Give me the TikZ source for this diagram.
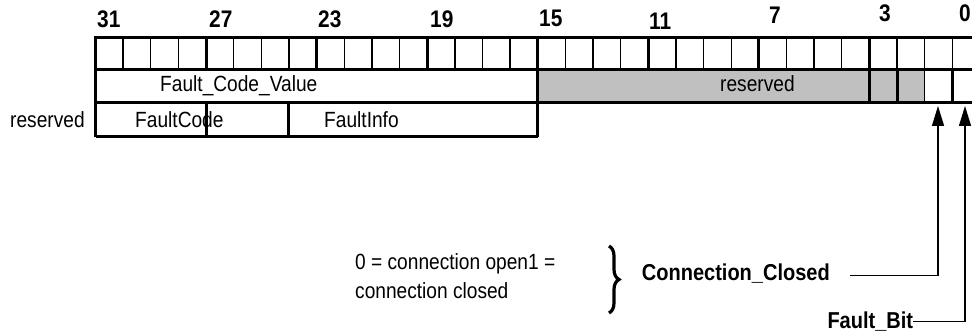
\documentclass[tikz,border=0pt]{standalone}
\usepackage{fontspec}
\setmainfont{Liberation Sans}[FakeStretch=0.87]
\usetikzlibrary{arrows.meta,decorations.pathreplacing}
\definecolor{resgray}{RGB}{192,192,192}
\begin{document}
\begin{tikzpicture}[x=1pt,y=-1pt,
  thickln/.style={line width=3pt},
  thinln/.style={line width=1.4pt},
  bitlbl/.style={anchor=base west, inner sep=0pt, font=\fontsize{24}{28}\selectfont\bfseries},
  fieldtxt/.style={anchor=base west, inner sep=0pt, font=\fontsize{22}{29}\selectfont},
  boldtxt/.style={anchor=base west, inner sep=0pt, font=\fontsize{23}{29}\selectfont\bfseries},
  ptr/.style={line width=1.4pt, -{Triangle[width=12pt,length=20pt]}},
  bracestyle/.style={line width=3.2pt, decorate, decoration={brace, amplitude=10pt}}]
\useasboundingbox (0,0) rectangle (972,336);
\clip (0,0) rectangle (972,336);
% gray reserved area
\fill[resgray] (537.74,70) rectangle (924.7,103);
% row 1 vertical lines
\foreach \i in {1,...,31} {
  \pgfmathsetmacro\xx{95.5+\i*27.64}
  \pgfmathtruncatemacro\md{mod(\i,4)}
  \ifnum\md=0
    \draw[thickln] (\xx,37.3) -- (\xx,70);
  \else
    \draw[thinln] (\xx,37.3) -- (\xx,70);
  \fi
}
% row 2 vertical lines
\draw[thickln] (537.74,70) -- (537.74,103);
\draw[thickln] (869.42,70) -- (869.42,103);
\draw[thickln] (897.06,70) -- (897.06,103);
\draw[thinln] (924.7,70) -- (924.7,103);
\draw[thickln] (952.34,70) -- (952.34,103);
% row 3 vertical lines
\draw[thickln] (206.06,103) -- (206.06,137);
\draw[thickln] (288.98,103) -- (288.98,137);
\draw[thickln] (537.74,103) -- (537.74,137);
% horizontal lines and outer border
\draw[thickln] (95.5,137) -- (95.5,37.3) -- (985,37.3);
\draw[thickln] (95.5,70) -- (985,70);
\draw[thickln] (95.5,103) -- (985,103);
\draw[thickln] (95.5,137) -- (537.74,137);
% bit numbers
\node[bitlbl] (b31) at (97,28) {31};
\node[bitlbl] (b27) at (209,28) {27};
\node[bitlbl] (b23) at (318,28) {23};
\node[bitlbl] (b19) at (430,28) {19};
\node[bitlbl] (b15) at (539,26.7) {15};
\node[bitlbl] (b11) at (649,29.3) {11};
\node[bitlbl] (b7) at (769,23.3) {7};
\node[bitlbl] (b3) at (879,21.7) {3};
\node[bitlbl] (b0) at (959,21.7) {0};
% field texts
\node[fieldtxt] (fcv) at (160,91.5) {Fault\_Code\_Value};
\node[fieldtxt] (res1) at (720,92) {reserved};
\node[fieldtxt] (res2) at (10,128) {reserved};
\node[fieldtxt] (fc) at (135,128) {FaultCode};
\node[fieldtxt] (fi) at (324,128) {FaultInfo};
% description
\node[fieldtxt, align=left] (desc) at (355,298.3) {0 = connection open1 =\\connection closed};
\draw[bracestyle] (609,246) -- (609,313);
\node[boldtxt] (cc) at (641.7,280.7) {Connection\_Closed};
\node[boldtxt, anchor=base east] (fb) at (913.3,328.3) {Fault\_Bit};
% pointers
\coordinate (ccstart) at (850,275.7);
\coordinate (fbstart) at (913.3,321.7);
\coordinate (bit1) at (938,106);
\coordinate (bit0) at (965,106);
\draw[ptr] (ccstart) -| (bit1);
\draw[ptr] (fbstart) -| (bit0);
\end{tikzpicture}
\end{document}
